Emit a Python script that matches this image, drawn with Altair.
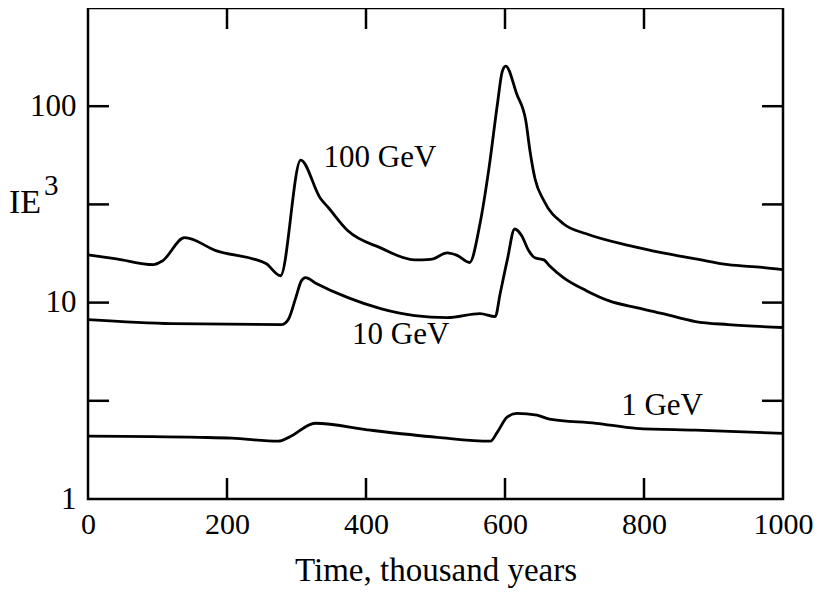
import altair as alt
import pandas as pd

# ---- data ----
x100 = [0, 41, 94, 107, 139, 184, 256, 277, 306, 334, 346, 374, 421, 470, 493, 517, 531, 549,
        564, 577, 589, 596, 601, 617, 630, 636, 643, 656, 684, 717, 779, 827, 874, 921, 970, 1000]
y100 = [17.5, 16.7, 15.6, 16.3, 21.4, 18.4, 15.8, 13.7, 53.2, 34.1, 30.4, 23.2, 19.0, 16.5, 16.6, 17.9, 17.4, 16.0,
        25.2, 48.5, 102, 150, 160, 115, 84, 59, 43, 33, 25.2, 22.4, 19.5, 17.9, 16.7, 15.6, 15.1, 14.7]

x10 = [0, 121, 279, 289, 299, 307, 313, 327, 374, 421, 470, 517, 564, 586, 593, 603, 614, 624,
       634, 643, 656, 664, 684, 717, 750, 789, 827, 874, 921, 1000]
y10 = [8.2, 7.82, 7.73, 8.3, 10.6, 12.9, 13.4, 12.6, 10.6, 9.32, 8.59, 8.39, 8.79, 8.49, 11.1, 16.3, 23.7, 21.9,
       18.4, 16.9, 16.5, 15.4, 13.4, 11.5, 10.2, 9.43, 8.79, 8.01, 7.73, 7.47]

x1 = [0, 160, 207, 274, 289, 327, 407, 503, 579, 589, 603, 617, 646, 664, 731, 789, 874, 1000]
y1 = [2.09, 2.06, 2.04, 1.97, 2.06, 2.43, 2.24, 2.06, 1.97, 2.19, 2.61, 2.73, 2.67, 2.55, 2.43, 2.29, 2.24, 2.16]

series_names = ["100 GeV", "10 GeV", "1 GeV"]
label_x = [420, 450, 826]
label_y = [54.4, 6.8, 2.97]

x_ticks = [200, 400, 600, 800]
x_labels = [0, 200, 400, 600, 800, 1000]
y_ticks = [3.1623, 10, 31.623, 100]
y_labels = [1, 10, 100]

W, H = 695, 491
FONT = "Liberation Serif"

rows = []
for name, xs, ys in zip(series_names, [x100, x10, x1], [y100, y10, y1]):
    for a, b in zip(xs, ys):
        rows.append({"series": name, "t": a, "v": b})
df = pd.DataFrame(rows)

xs = alt.Scale(domain=[0, 1000], nice=False)
ys = alt.Scale(type="log", domain=[1, 316.23], nice=False)

lines = alt.Chart(df).mark_line(color="black", strokeWidth=2.8, interpolate="monotone").encode(
    x=alt.X("t:Q", scale=xs, axis=alt.Axis(values=x_labels, title="Time, thousand years", domain=False,
                                           ticks=False, grid=False, labelFont=FONT, labelFontSize=30,
                                           labelColor="black", labelPadding=10, titleFont=FONT,
                                           titleFontSize=33, titleFontWeight="normal", titleColor="black",
                                           titlePadding=15, labelFlush=False, format="d")),
    y=alt.Y("v:Q", scale=ys, axis=alt.Axis(values=y_labels, title=None, domain=False, ticks=False,
                                           grid=False, labelFont=FONT, labelFontSize=31, labelColor="black",
                                           labelPadding=12, format="d", labelFlush=False)),
    detail="series:N",
)

lab_df = pd.DataFrame({"t": label_x, "v": label_y, "txt": series_names})
labels = alt.Chart(lab_df).mark_text(font=FONT, fontSize=31, color="black", align="center",
                                     baseline="middle").encode(
    x=alt.X("t:Q", scale=xs), y=alt.Y("v:Q", scale=ys), text="txt:N")

xt = pd.DataFrame({"t": x_ticks})
yt = pd.DataFrame({"v": y_ticks})
TL = 21
tick_bottom = alt.Chart(xt).mark_rule(color="black", strokeWidth=2.5).encode(
    x=alt.X("t:Q", scale=xs), y=alt.value(H), y2=alt.value(H - TL))
tick_top = alt.Chart(xt).mark_rule(color="black", strokeWidth=2.5).encode(
    x=alt.X("t:Q", scale=xs), y=alt.value(0), y2=alt.value(TL))
tick_left = alt.Chart(yt).mark_rule(color="black", strokeWidth=2.5).encode(
    y=alt.Y("v:Q", scale=ys), x=alt.value(0), x2=alt.value(TL))
tick_right = alt.Chart(yt).mark_rule(color="black", strokeWidth=2.5).encode(
    y=alt.Y("v:Q", scale=ys), x=alt.value(W), x2=alt.value(W - TL))

ylab_df = pd.DataFrame({"txt": ["IE"]})
ie = alt.Chart(ylab_df).mark_text(font=FONT, fontSize=34, color="black", align="left",
                                  baseline="alphabetic").encode(
    x=alt.value(-79), y=alt.value(205), text="txt:N")
sup_df = pd.DataFrame({"txt": ["3"]})
sup = alt.Chart(sup_df).mark_text(font=FONT, fontSize=29, color="black", align="left",
                                  baseline="alphabetic").encode(
    x=alt.value(-44), y=alt.value(187), text="txt:N")

chart = alt.layer(lines, labels, tick_bottom, tick_top, tick_left, tick_right, ie, sup).properties(
    width=W, height=H,
    autosize=alt.AutoSizeParams(type="none"),
    padding={"left": 80, "top": 0, "right": 30, "bottom": 89},
    background="white",
).configure_view(stroke="black", strokeWidth=2.5)

chart.save("out.html", embed_options={"renderer": "svg", "actions": False})
